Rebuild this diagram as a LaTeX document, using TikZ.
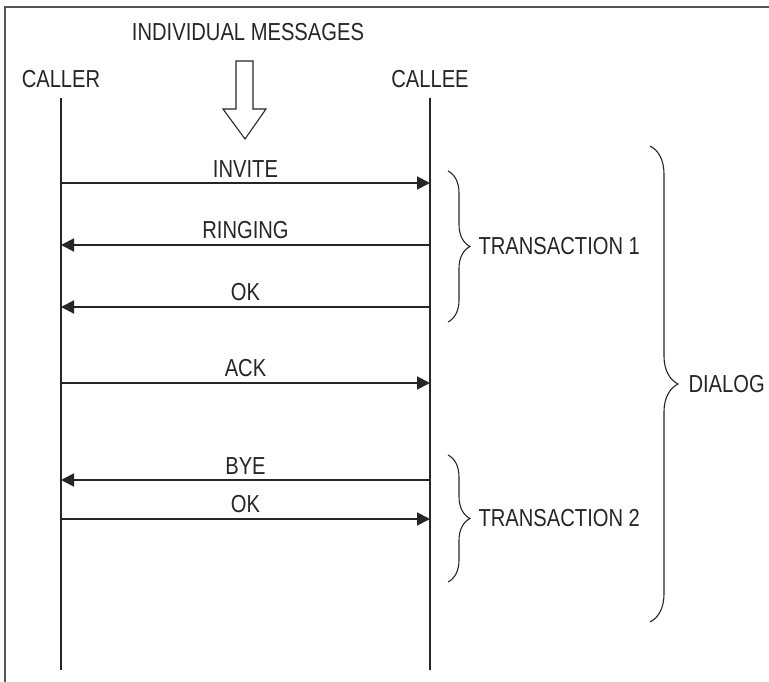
\documentclass[tikz,border=0pt]{standalone}
\usepackage{fontspec}
\setmainfont{Liberation Sans}[FakeStretch=0.82]
\usepackage{tikz}
\usetikzlibrary{arrows.meta,positioning,calc,decorations.pathreplacing}
\definecolor{ink}{HTML}{262626}
\definecolor{graphite}{HTML}{555555}

\begin{document}
\begin{tikzpicture}[x=1pt,y=-1pt,
  font=\fontsize{24.6}{29}\selectfont,
  life/.style={draw=ink,line width=1.9pt},
  msg/.style={draw=ink,line width=1.9pt,-{Triangle[length=13pt,width=13pt]}},
  lbl/.style={text=ink,inner sep=2pt},
  grp/.style={draw=ink,line width=1.1pt,decorate,
              decoration={brace,amplitude=#1}}]
  \useasboundingbox (0,0) rectangle (769,682);
  \draw[graphite,line width=1.6pt] (5,682) |- (769,7);

  \node[lbl] (title)  at (248,32) {INDIVIDUAL MESSAGES};
  \node[lbl] (caller) at (61,79)  {CALLER};
  \node[lbl] (callee) at (430,79) {CALLEE};
  \coordinate (callerTop) at (61,98);  \coordinate (callerEnd) at (61,670);
  \coordinate (calleeTop) at (430,98); \coordinate (calleeEnd) at (430,670);
  \draw[life] (callerTop) -- (callerEnd);
  \draw[life] (calleeTop) -- (calleeEnd);

  % hollow arrow under the title
  \draw[ink,line width=1.1pt,line join=miter]
    (236,61) -- (253,61) -- (253,109) -- (266,109) -- (245,139)
    -- (223,109) -- (236,109) -- cycle;

  \foreach \i/\y/\from/\to/\txt in {1/183/l/r/INVITE, 2/245/r/l/RINGING,
      3/307/r/l/OK, 4/383/l/r/ACK, 5/480/r/l/BYE, 6/519/l/r/OK} {
    \coordinate (l\i) at (callerTop |- 0,\y);
    \coordinate (r\i) at (calleeTop |- 0,\y);
    \draw[msg] (\from\i) -- node[lbl,above=3pt] {\txt} (\to\i);
  }

  \draw[grp=22pt] (448,171) -- (448,322)
    node[lbl,midway,right=28pt] (tr1) {TRANSACTION 1};
  \draw[grp=22pt] (448,455) -- (448,582)
    node[lbl,midway,right=28pt] (tr2) {TRANSACTION 2};
  \draw[grp=28pt] (650,146) -- (650,622)
    node[lbl,midway,right=36pt] (dlg) {DIALOG};
\end{tikzpicture}
\end{document}
